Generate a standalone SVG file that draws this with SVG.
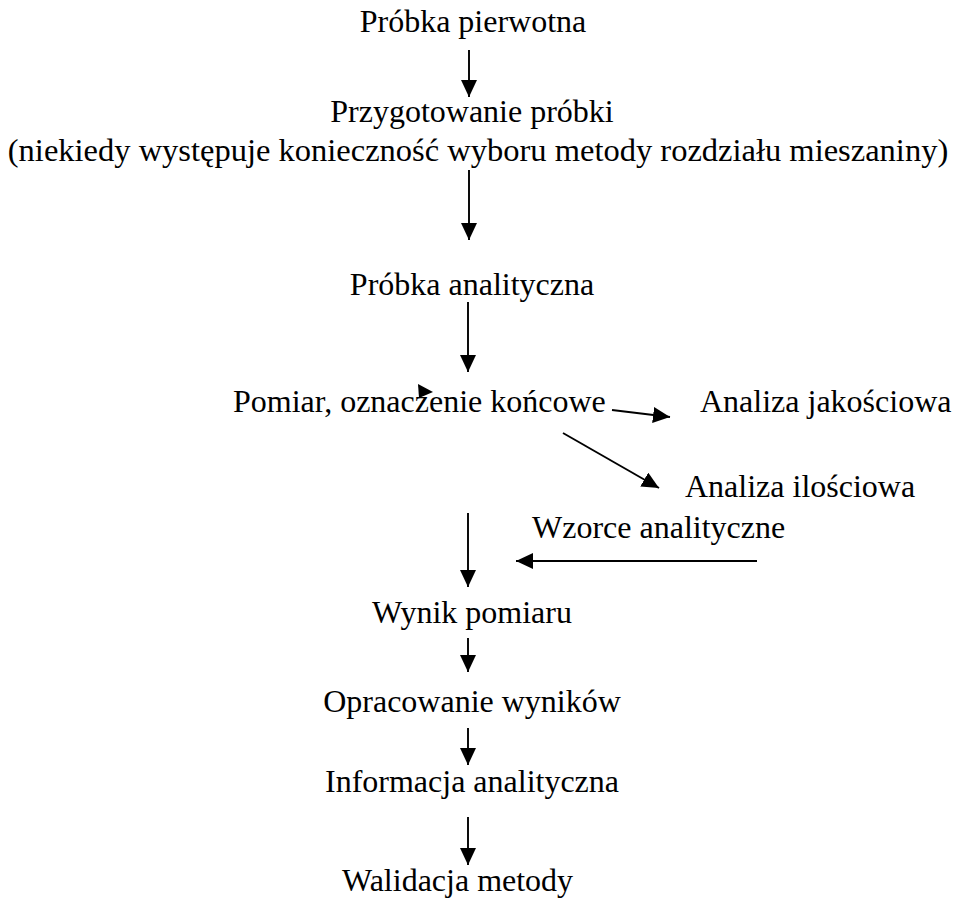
<svg xmlns="http://www.w3.org/2000/svg" width="955" height="910" viewBox="0 0 955 910">
<style>
  text { font-family: "Liberation Serif", "Times New Roman", serif; font-size: 32px; fill: #000; }
  .c { text-anchor: middle; }
  .tall { font-size: 32.5px; }
  .conn line { stroke: #000; stroke-width: 1.9; fill: none; marker-end: url(#ah); }
</style>
<defs>
  <marker id="ah" markerUnits="userSpaceOnUse" markerWidth="18" markerHeight="17" refX="17" refY="8" orient="auto">
    <path d="M0,0 L17,8 L0,16 z" fill="#000"/>
  </marker>
</defs>
<rect width="955" height="910" fill="#fff"/>
<g class="conn" id="connectors">
  <line x1="469" y1="50" x2="469" y2="97"/>
  <line x1="469" y1="170" x2="469" y2="240"/>
  <line x1="468" y1="302" x2="468" y2="372"/>
  <line x1="468" y1="513" x2="468" y2="587"/>
  <line x1="468" y1="638" x2="468" y2="672"/>
  <line x1="468" y1="728" x2="468" y2="765"/>
  <line x1="468" y1="817" x2="468" y2="865"/>
  <line x1="612" y1="410" x2="670" y2="417"/>
  <line x1="563" y1="433" x2="659" y2="488"/>
  <line x1="757" y1="561" x2="516" y2="561"/>
  <path d="M418,384 L433,392 L419,398 z" fill="#000"/>
</g>
<g id="n1"><text class="c" x="473" y="32">Próbka pierwotna</text></g>
<g id="n2"><text class="c" x="472" y="122">Przygotowanie próbki</text>
<text class="tall c" x="478" y="161">(niekiedy występuje konieczność wyboru metody rozdziału mieszaniny)</text></g>
<g id="n3"><text class="c" x="472" y="295">Próbka analityczna</text></g>
<g id="n4"><text x="233" y="412">Pomiar, oznaczenie końcowe</text></g>
<g id="n5"><text x="700" y="412">Analiza jakościowa</text></g>
<g id="n6"><text x="685" y="497">Analiza ilościowa</text></g>
<g id="n7"><text x="532" y="538">Wzorce analityczne</text></g>
<g id="n8"><text class="c" x="472" y="623">Wynik pomiaru</text></g>
<g id="n9"><text class="c" x="472" y="712">Opracowanie wyników</text></g>
<g id="n10"><text class="c" x="472" y="792">Informacja analityczna</text></g>
<g id="n11"><text x="342" y="891">Walidacja metody</text></g>
</svg>
